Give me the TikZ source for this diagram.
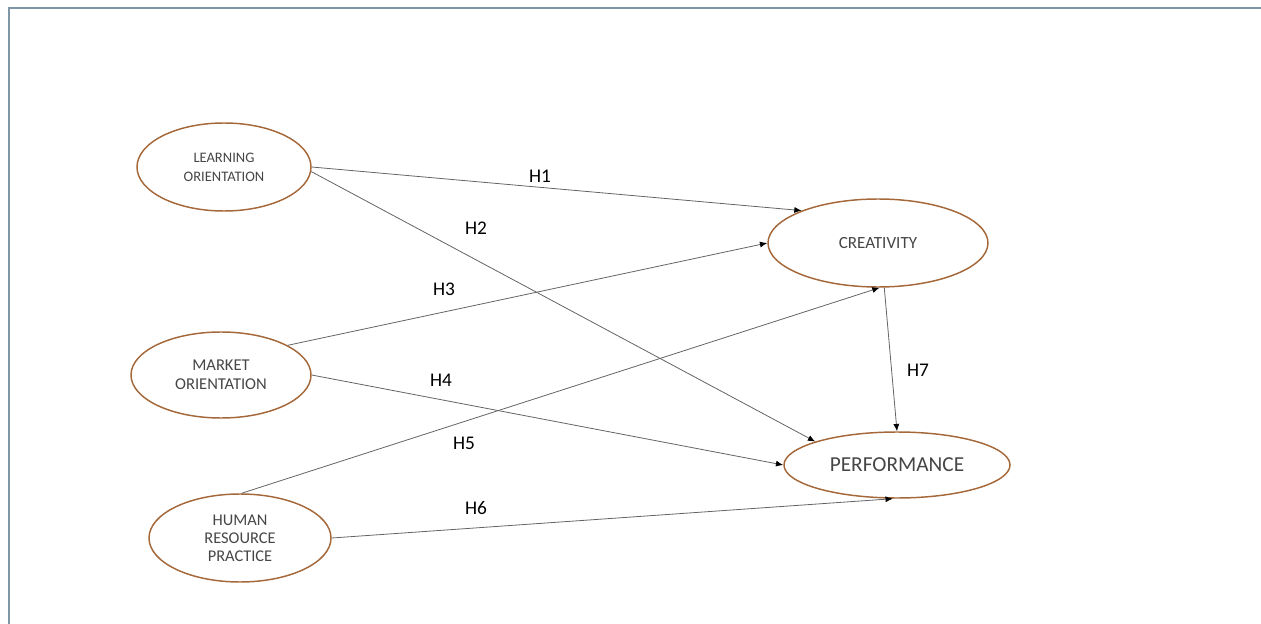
\documentclass[tikz,border=0pt]{standalone}
\usepackage{fontspec}
\setmainfont{Carlito}
\usetikzlibrary{shapes.geometric}
\usetikzlibrary{arrows.meta}

\begin{document}
\begin{tikzpicture}[x=0.75pt,y=0.75pt,yscale=-1,xscale=1,
  construct/.style={draw={rgb,255:red,164;green,104;blue,58}, line width=1.1pt, ellipse, inner sep=0pt, align=center, text={rgb,255:red,70;green,70;blue,70}},
  hypo/.style={draw={rgb,255:red,100;green,100;blue,100}, line width=0.6pt, -{Latex[length=5.5pt,width=4.5pt,color=black]}},
  hlabel/.style={font=\fontsize{14.5}{16}\selectfont}]
\useasboundingbox (0,0) rectangle (1261,624);

%Shape: Frame
\draw [color={rgb, 255:red, 126; green, 150; blue, 166 }, line width=1.5pt] (8.5,624) -- (8.5,8.5) -- (1261,8.5) ;

%Shape: Ellipse (constructs)
\node [construct, minimum width=130.5pt, minimum height=66pt, font=\fontsize{10.9}{14.3}\selectfont] (lo) at (224,167) {LEARNING\\ORIENTATION};
\node [construct, minimum width=135pt, minimum height=64.5pt, font=\fontsize{12.4}{14.3}\selectfont] (mo) at (221,375) {MARKET\\ORIENTATION};
\node [construct, minimum width=136.5pt, minimum height=66pt, font=\fontsize{12.3}{13.6}\selectfont] (hr) at (240,538) {HUMAN\\RESOURCE\\PRACTICE};
\node [construct, minimum width=165pt, minimum height=66pt, font=\fontsize{12.8}{14}\selectfont] (cr) at (878,243) {CREATIVITY};
\node [construct, minimum width=169.5pt, minimum height=49.5pt, font=\fontsize{16}{18}\selectfont] (pf) at (897,465) {PERFORMANCE};

%Straight Lines (hypotheses)
\draw [hypo] (lo.east) -- (cr.157) ;
\draw [hypo] (lo.-3) -- (pf.164) ;
\draw [hypo] (mo.24) -- (cr.west) ;
\draw [hypo] (mo.east) -- (pf.west) ;
\draw [hypo] (hr.88) -- (cr.-88) ;
\draw [hypo] (hr.east) -- (pf.-97) ;
\draw [hypo] (cr.-82) -- (pf.north) ;

% Text Node
\node [hlabel] (h1) at (540,176) {H1};
% Text Node
\node [hlabel] (h2) at (476,228) {H2};
% Text Node
\node [hlabel] (h3) at (444,289) {H3};
% Text Node
\node [hlabel] (h4) at (441,380) {H4};
% Text Node
\node [hlabel] (h5) at (464,443) {H5};
% Text Node
\node [hlabel] (h6) at (476,508) {H6};
% Text Node
\node [hlabel] (h7) at (918,370) {H7};

\end{tikzpicture}
\end{document}
